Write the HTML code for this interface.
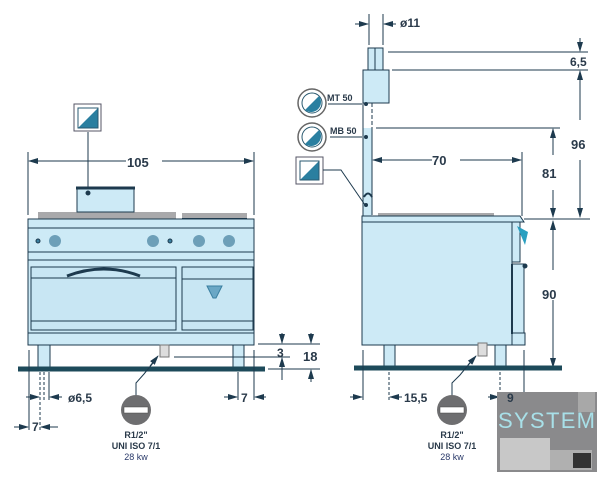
<!DOCTYPE html>
<html><head><meta charset="utf-8"><style>
html,body{margin:0;padding:0;background:#fff;width:600px;height:477px;overflow:hidden}
svg{display:block}
text{font-family:"Liberation Sans",sans-serif;font-weight:bold;fill:#2a3a4a}
</style></head><body>
<svg width="600" height="477" viewBox="0 0 600 477" xmlns="http://www.w3.org/2000/svg">
<defs>
<marker id="a" markerWidth="10" markerHeight="6" refX="9" refY="3" orient="auto" markerUnits="userSpaceOnUse"><path d="M0,0L10,3L0,6z" fill="#1d3a4e"/></marker>
</defs>
<g stroke="#1d3a4e" stroke-width="1" fill="none">
<!-- FRONT VIEW -->
<!-- 105 dim -->
<line x1="28" y1="152" x2="28" y2="215"/><line x1="254" y1="152" x2="254" y2="215"/>
<line x1="60" y1="161" x2="29" y2="161" marker-end="url(#a)"/>
<line x1="222" y1="161" x2="253" y2="161" marker-end="url(#a)"/>
<line x1="60" y1="161" x2="126" y2="161"/><line x1="162" y1="161" x2="222" y2="161"/>
<!-- icon square -->
<rect x="74" y="104" width="27" height="27" fill="#fff" stroke="#556"/>
<path d="M78,128L98,108L98,128z" fill="#2a7fa0" stroke="none"/>
<rect x="78" y="108" width="20" height="20" stroke="#2a5a70"/>
<line x1="88" y1="132" x2="88" y2="193"/>
<!-- griddles -->
<rect x="38" y="212" width="138" height="7" fill="#a9a9ab" stroke="none"/>
<rect x="182" y="213" width="65" height="6" fill="#a9a9ab" stroke="none"/>
<line x1="182" y1="219" x2="247" y2="219" stroke-width="2"/>
<rect x="77" y="189" width="57" height="23" fill="#cdeaf6"/>
<line x1="76" y1="188" x2="135" y2="188" stroke-width="3"/>
<circle cx="88" cy="193" r="2" fill="#1d3a4e"/>
<!-- body -->
<rect x="28" y="219" width="226" height="126" fill="#cdeaf6"/>
<line x1="28" y1="228" x2="254" y2="228"/>
<line x1="28" y1="252" x2="254" y2="252"/>
<line x1="28" y1="260" x2="254" y2="260"/>
<rect x="31" y="267" width="145" height="63" fill="#c8e6f3"/>
<line x1="31" y1="278" x2="176" y2="278"/>
<line x1="31" y1="321" x2="176" y2="321"/>
<rect x="182" y="267" width="71" height="63" fill="#c8e6f3"/>
<line x1="182" y1="279" x2="253" y2="279"/>
<line x1="182" y1="321" x2="253" y2="321"/>
<line x1="28" y1="333" x2="254" y2="333"/>
<path d="M67,276Q104,262 140,276" stroke-width="3"/>
<!-- knobs -->
<circle cx="38" cy="241" r="2" fill="#3a7fa0"/><circle cx="170" cy="241" r="2" fill="#3a7fa0"/>
<g fill="#6d9fb8" stroke="none"><circle cx="55" cy="241" r="6"/><circle cx="153" cy="241" r="6"/><circle cx="199" cy="241" r="6"/><circle cx="229" cy="241" r="6"/></g>
<path d="M207,286L222,286L216,298L213,298z" fill="#6aa7c5" stroke="#3a7fa0"/>
<!-- legs -->
<rect x="38" y="345" width="12" height="22" fill="#cdeaf6"/>
<rect x="233" y="345" width="11" height="22" fill="#cdeaf6"/>
<rect x="160" y="345" width="9" height="12" fill="#ddd" stroke="#777"/>
<line x1="18" y1="369" x2="265" y2="369" stroke-width="5" stroke="#1d4a5a"/>
<!-- gas pointer -->
<path d="M136,396L136,383L144,374L157,358" />
<line x1="150" y1="366" x2="158" y2="356" marker-end="url(#a)"/>
<!-- right dims -->
<line x1="258" y1="344" x2="320" y2="344"/><line x1="174" y1="357" x2="290" y2="357"/><line x1="268" y1="369" x2="320" y2="369"/>
<line x1="282" y1="333" x2="282" y2="343" marker-end="url(#a)"/>
<line x1="282" y1="380" x2="282" y2="358" marker-end="url(#a)"/>
<line x1="311" y1="333" x2="311" y2="343" marker-end="url(#a)"/>
<line x1="311" y1="382" x2="311" y2="370" marker-end="url(#a)"/>
<!-- bottom dims -->
<line x1="29" y1="350" x2="29" y2="430"/><line x1="40" y1="372" x2="40" y2="430" stroke-dasharray="3,2"/><line x1="44" y1="372" x2="44" y2="400" stroke-dasharray="3,2"/><line x1="49" y1="372" x2="49" y2="400"/>
<line x1="26" y1="397" x2="39" y2="397" marker-end="url(#a)"/><line x1="62" y1="397" x2="50" y2="397" marker-end="url(#a)"/>
<line x1="14" y1="427" x2="28" y2="427" marker-end="url(#a)"/><line x1="58" y1="427" x2="41" y2="427" marker-end="url(#a)"/>
<line x1="238" y1="372" x2="238" y2="400"/><line x1="254" y1="350" x2="254" y2="400"/>
<line x1="224" y1="397" x2="237" y2="397" marker-end="url(#a)"/><line x1="266" y1="397" x2="255" y2="397" marker-end="url(#a)"/>

<!-- SIDE VIEW -->
<!-- flue -->
<rect x="368" y="48" width="15" height="22" fill="#cdeaf6"/>
<line x1="375" y1="48" x2="375" y2="80"/>
<rect x="363" y="70" width="26" height="33" fill="#cdeaf6"/>
<rect x="363" y="128" width="9" height="88" fill="#cdeaf6" stroke="none"/>
<line x1="363" y1="103" x2="363" y2="218"/>
<line x1="372" y1="103" x2="372" y2="128" stroke-dasharray="4,2"/>
<line x1="372" y1="128" x2="372" y2="215"/>
<path d="M364,197Q368,190 372,197" stroke-width="2"/>
<circle cx="366" cy="104" r="1.5" fill="#1d3a4e"/><circle cx="366" cy="137" r="1.5" fill="#1d3a4e"/><circle cx="366" cy="205" r="1.5" fill="#1d3a4e"/>
<!-- dims flue -->
<line x1="369" y1="14" x2="369" y2="45"/><line x1="383" y1="14" x2="383" y2="45"/>
<line x1="355" y1="24" x2="368" y2="24" marker-end="url(#a)"/><line x1="396" y1="24" x2="384" y2="24" marker-end="url(#a)"/>
<line x1="388" y1="52" x2="588" y2="52"/><line x1="392" y1="70" x2="588" y2="70"/>
<line x1="580" y1="38" x2="580" y2="51" marker-end="url(#a)"/>
<line x1="580" y1="120" x2="580" y2="71" marker-end="url(#a)"/>
<line x1="580" y1="160" x2="580" y2="217" marker-end="url(#a)"/>
<line x1="376" y1="128" x2="560" y2="128"/>
<line x1="553" y1="155" x2="553" y2="129" marker-end="url(#a)"/>
<line x1="553" y1="190" x2="553" y2="217" marker-end="url(#a)"/>
<line x1="524" y1="219" x2="590" y2="219"/>
<line x1="553" y1="270" x2="553" y2="221" marker-end="url(#a)"/>
<line x1="553" y1="300" x2="553" y2="367" marker-end="url(#a)"/>
<!-- 70 -->
<line x1="522" y1="152" x2="522" y2="216"/>
<line x1="400" y1="160" x2="373" y2="160" marker-end="url(#a)"/>
<line x1="490" y1="160" x2="521" y2="160" marker-end="url(#a)"/>
<line x1="400" y1="160" x2="432" y2="160"/><line x1="460" y1="160" x2="490" y2="160"/>
<!-- icons -->
<circle cx="312" cy="103" r="14" fill="#fff" stroke="#666" stroke-width="1.5"/>
<circle cx="312" cy="103" r="10" fill="#fff" stroke="#2a5a70"/>
<path d="M305,110A10,10 0 0 0 319,96z" fill="#2a7fa0" stroke="none"/>
<circle cx="312" cy="137" r="14" fill="#fff" stroke="#666" stroke-width="1.5"/>
<circle cx="312" cy="137" r="10" fill="#fff" stroke="#2a5a70"/>
<path d="M305,144A10,10 0 0 0 319,130z" fill="#2a7fa0" stroke="none"/>
<line x1="328" y1="104" x2="362" y2="104"/>
<line x1="330" y1="137" x2="362" y2="137"/>
<rect x="296" y="157" width="27" height="27" fill="#fff" stroke="#556"/>
<path d="M300,180L319,161L319,180z" fill="#2a7fa0" stroke="none"/>
<rect x="300" y="161" width="19" height="19" stroke="#2a5a70"/>
<path d="M323,170L341,170L365,205"/>
<!-- body side -->
<rect x="378" y="213" width="116" height="6" fill="#a9a9ab" stroke="none"/>
<path d="M362,216L520,216L524,222L362,222z" fill="#cdeaf6"/>
<rect x="362" y="222" width="150" height="123" fill="#cdeaf6"/>
<path d="M512,222L520,222L520,262L512,262z" fill="#cdeaf6"/>
<path d="M517,226L528,232L525,245z" fill="#2a9fc0" stroke="none"/>
<rect x="512" y="264" width="12" height="70" fill="#cdeaf6"/>
<rect x="512" y="333" width="13" height="12" fill="#cdeaf6"/>
<line x1="512" y1="264" x2="512" y2="334" stroke-width="2"/>
<circle cx="525" cy="266" r="2" fill="#1d3a4e"/>
<rect x="384" y="345" width="11" height="22" fill="#cdeaf6"/>
<rect x="495" y="345" width="11" height="22" fill="#cdeaf6"/>
<rect x="478" y="343" width="9" height="13" fill="#ddd" stroke="#777"/>
<line x1="354" y1="368" x2="562" y2="368" stroke-width="5" stroke="#1d4a5a"/>
<path d="M452,398L452,383L460,375L474,358"/>
<line x1="468" y1="365" x2="476" y2="356" marker-end="url(#a)"/>
<line x1="363" y1="350" x2="363" y2="400"/><line x1="389" y1="372" x2="389" y2="400" stroke-dasharray="3,2"/>
<line x1="350" y1="397" x2="362" y2="397" marker-end="url(#a)"/><line x1="402" y1="397" x2="390" y2="397" marker-end="url(#a)"/>
<line x1="500" y1="372" x2="500" y2="400" stroke-dasharray="3,2"/><line x1="524" y1="350" x2="524" y2="400"/>
<line x1="488" y1="397" x2="499" y2="397" marker-end="url(#a)"/><line x1="537" y1="397" x2="525" y2="397" marker-end="url(#a)"/>
</g>
<!-- gas icons -->
<circle cx="136" cy="410" r="15" fill="#6e6e70"/><rect x="124" y="407" width="24" height="6" fill="#fff" stroke="#444" stroke-width="0.5"/>
<circle cx="452" cy="410" r="15" fill="#6e6e70"/><rect x="440" y="407" width="24" height="6" fill="#fff" stroke="#444" stroke-width="0.5"/>
<!-- logo -->
<rect x="497" y="392" width="100" height="80" fill="#8a8a8c"/>
<rect x="500" y="438" width="50" height="32" fill="#c8c8c8"/>
<rect x="550" y="450" width="42" height="20" fill="#b0b0b0"/>
<rect x="578" y="392" width="17" height="20" fill="#a8a8a8"/>
<rect x="573" y="453" width="18" height="15" fill="#333"/>
<text x="498" y="428" font-size="22" style="fill:#a8e0e8;font-weight:normal;letter-spacing:1px" textLength="98">SYSTEM</text>
<!-- texts -->
<text x="127" y="167" font-size="13">105</text>
<text x="432" y="165" font-size="13">70</text>
<text x="400" y="27" font-size="12">ø11</text>
<text x="570" y="66" font-size="12">6,5</text>
<text x="571" y="149" font-size="13">96</text>
<text x="542" y="178" font-size="13">81</text>
<text x="542" y="299" font-size="13">90</text>
<text x="327" y="101" font-size="9">MT 50</text>
<text x="330" y="134" font-size="9">MB 50</text>
<text x="277" y="357" font-size="12">3</text>
<text x="303" y="361" font-size="13">18</text>
<text x="68" y="402" font-size="12">ø6,5</text>
<text x="32" y="431" font-size="12">7</text>
<text x="241" y="402" font-size="12">7</text>
<text x="404" y="402" font-size="12">15,5</text>
<text x="507" y="402" font-size="12">9</text>
<g font-size="9" text-anchor="middle">
<text x="136" y="438">R1/2"</text><text x="136" y="449">UNI ISO 7/1</text><text x="136" y="460" style="font-weight:normal;fill:#2a3a6a">28 kw</text>
<text x="452" y="438">R1/2"</text><text x="452" y="449">UNI ISO 7/1</text><text x="452" y="460" style="font-weight:normal;fill:#2a3a6a">28 kw</text>
</g>
</svg>
</body></html>
